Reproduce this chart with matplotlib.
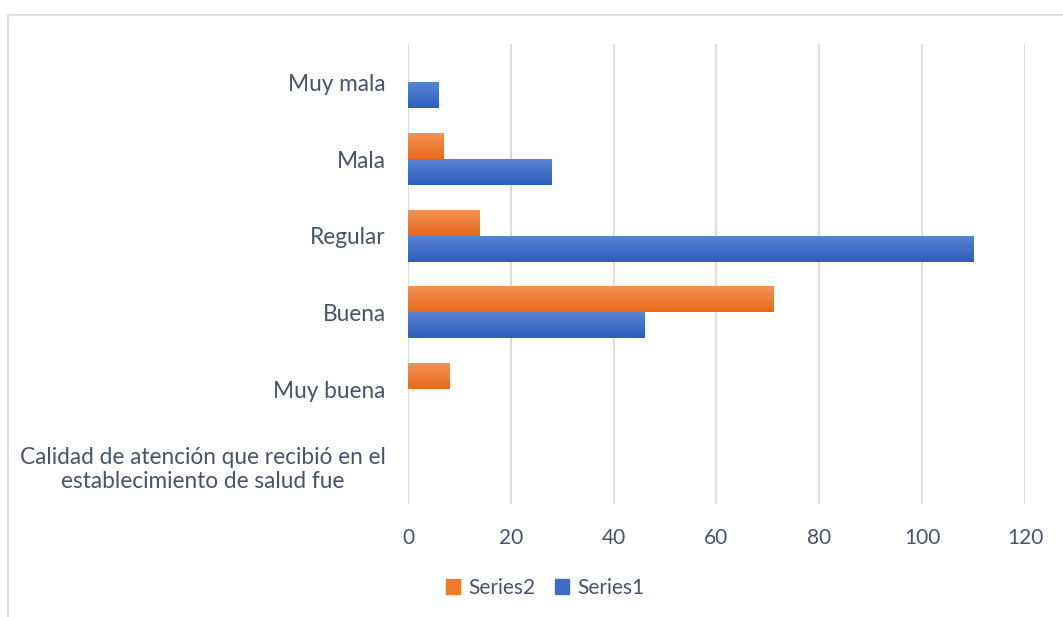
import numpy as np
import matplotlib.pyplot as plt
import matplotlib.patches as patches
from matplotlib.colors import LinearSegmentedColormap

# Categories listed from bottom to top of the chart
categorias = ['Calidad de atención que recibió en el\nestablecimiento de salud fue',
              'Muy buena', 'Buena', 'Regular', 'Mala', 'Muy mala']
series1 = [0, 0, 46, 110, 28, 6]
series2 = [0, 8, 71, 14, 7, 0]
xticks = [0, 20, 40, 60, 80, 100, 120]

TEXT = '#48546a'
GRID = '#d9dde3'
plt.rcParams['font.family'] = ['Lato', 'DejaVu Sans']

azul = LinearSegmentedColormap.from_list('azul', ['#5b84d4', '#2c5fbd'])
naranja = LinearSegmentedColormap.from_list('naranja', ['#f39357', '#e86a1a'])


def barras_degradado(ax, bars, cmap):
    # paint each bar with a vertical gradient, clipped to the bar shape
    grad = np.linspace(0, 1, 64).reshape(-1, 1)
    for b in bars:
        w = b.get_width()
        if w <= 0:
            continue
        x0, y0 = b.get_x(), b.get_y()
        h = b.get_height()
        im = ax.imshow(grad, cmap=cmap, aspect='auto', origin='upper',
                       extent=(x0, x0 + w, y0, y0 + h), zorder=3)
        im.set_clip_path(b)


fig = plt.figure(figsize=(10.63, 6.17), dpi=100)
ax = fig.add_axes([408 / 1063, 1 - 504 / 617, 617 / 1063, 460 / 617])

y = np.arange(len(categorias))
h = 0.34
b1 = ax.barh(y - h / 2, series1, height=h, color='#3a6cc8', label='Series1', zorder=2)
b2 = ax.barh(y + h / 2, series2, height=h, color='#ee7b2c', label='Series2', zorder=2)
ax.set_xlim(0, 120)
ax.set_ylim(-0.5, len(categorias) - 0.5)
barras_degradado(ax, b1, azul)
barras_degradado(ax, b2, naranja)

ax.set_xticks(xticks)
ax.set_yticks(y)
ax.set_yticklabels(categorias, multialignment='center')
ax.tick_params(axis='both', length=0, colors=TEXT)
ax.tick_params(axis='x', pad=17, labelsize=15)
ax.tick_params(axis='y', pad=16, labelsize=16.3)
for s in ax.spines.values():
    s.set_visible(False)
ax.grid(axis='x', color=GRID, linewidth=1.5, zorder=0)
ax.set_axisbelow(True)

# legend below the plot, Series2 first
handles = [patches.Patch(color='#ee7b2c'), patches.Patch(color='#3a6cc8')]
fig.legend(handles, ['Series2', 'Series1'], loc='center left',
           bbox_to_anchor=(427 / 1063, 1 - 588 / 617), ncol=2, frameon=False,
           fontsize=15, labelcolor=TEXT, handlelength=0.7, handleheight=0.7,
           handletextpad=0.4, columnspacing=0.9)

# light frame around the chart area
fig.patches.append(patches.Rectangle((8 / 1063, -0.1), 1.2, 1 - 15 / 617 + 0.1,
                                     transform=fig.transFigure, fill=False,
                                     edgecolor='#dde1e6', linewidth=1.5))

fig.savefig('out.png', dpi=100)
